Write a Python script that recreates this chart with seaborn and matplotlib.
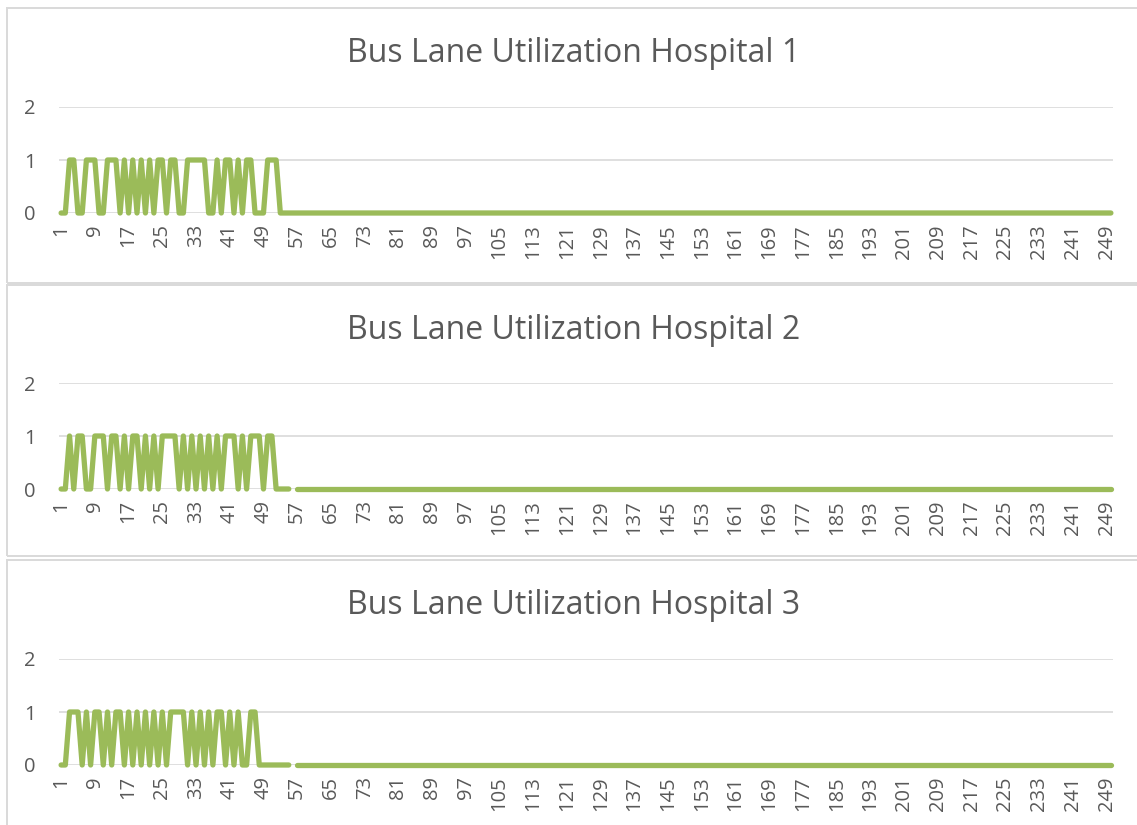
import numpy as np
import pandas as pd
import matplotlib
matplotlib.use("Agg")
import matplotlib.pyplot as plt
import seaborn as sns
from matplotlib.patches import Rectangle

# ---- data -------------------------------------------------------------
n_points = 250
categories = list(range(1, n_points + 1))

hospital_1 = [0, 0, 1, 1, 0, 0, 1, 1, 1, 0,
              0, 1, 1, 1, 0, 1, 0, 1, 0, 1,
              0, 1, 0, 1, 1, 0, 1, 1, 0, 0,
              1, 1, 1, 1, 1, 0, 0, 1, 0, 1,
              1, 0, 1, 0, 1, 1, 0, 0, 0, 1,
              1, 1, 0] + [0] * (n_points - 53)

hospital_2 = [0, 0, 1, 0, 1, 1, 0, 0, 1, 1,
              1, 0, 1, 1, 0, 1, 0, 1, 1, 0,
              1, 0, 1, 0, 1, 1, 1, 1, 0, 1,
              0, 1, 0, 1, 0, 1, 0, 1, 0, 1,
              1, 1, 0, 1, 0, 1, 1, 1, 0, 1,
              1, 0, 0, 0, 0, np.nan] + [0] * (n_points - 56)

hospital_3 = [0, 0, 1, 1, 1, 0, 1, 0, 1, 1,
              0, 1, 0, 1, 1, 0, 1, 0, 1, 0,
              1, 0, 1, 0, 1, 0, 1, 1, 1, 1,
              0, 1, 0, 1, 0, 1, 0, 1, 1, 0,
              1, 0, 1, 0, 0, 1, 1, 0, 0, 0,
              0, 0, 0, 0, 0, np.nan] + [0] * (n_points - 56)

series = [hospital_1, hospital_2, hospital_3]
titles = ["Bus Lane Utilization Hospital 1",
          "Bus Lane Utilization Hospital 2",
          "Bus Lane Utilization Hospital 3"]
x_ticks = list(range(1, n_points + 1, 8))
x_tick_labels = [str(t) for t in x_ticks]
y_ticks = [0, 1, 2]

# ---- style ------------------------------------------------------------
sns.set_theme(style="white")
plt.rcParams["font.family"] = ["Open Sans", "DejaVu Sans"]

LINE = "#9bbb59"
GRID = "#d9d9d9"
TEXT = "#595959"

W, H = 1137, 825
fig = plt.figure(figsize=(W / 100, H / 100), dpi=100)
fig.patch.set_facecolor("white")


def fig_box(x0, y0, x1, y1):
    """Pixel box (top-left origin) -> figure fraction rect."""
    return [x0 / W, 1 - y1 / H, (x1 - x0) / W, (y1 - y0) / H]


panel_frames = [(7, 8, 1160, 283), (7, 285, 1160, 556), (7, 560, 1160, 840)]
plot_areas = [(59, 107, 1113, 213), (59, 383, 1113, 489), (59, 659, 1113, 765)]
title_y = [54, 331, 606]

for (fx0, fy0, fx1, fy1) in panel_frames:
    fig.patches.append(Rectangle((fx0 / W, 1 - fy1 / H), (fx1 - fx0) / W,
                                 (fy1 - fy0) / H, transform=fig.transFigure,
                                 fill=False, edgecolor=GRID, lw=1.4))

for values, title, area, ty in zip(series, titles, plot_areas, title_y):
    ax = fig.add_axes(fig_box(*area))
    df = pd.DataFrame({"category": categories, "value": values})
    # break the line wherever a value is missing
    df["segment"] = df["value"].isna().cumsum()
    df = df.dropna()
    sns.lineplot(data=df, x="category", y="value", units="segment",
                 estimator=None, color=LINE, lw=3.8, ax=ax,
                 solid_capstyle="round", solid_joinstyle="round",
                 legend=False, clip_on=False, zorder=3)
    ax.set_xlim(0.5, n_points + 0.5)
    ax.set_ylim(0, 2)
    ax.set_xticks(x_ticks)
    ax.set_xticklabels(x_tick_labels, rotation=90)
    ax.set_yticks(y_ticks)
    ax.set_yticklabels([str(v) for v in y_ticks])
    ax.set_xlabel("")
    ax.set_ylabel("")
    ax.yaxis.grid(True, color=GRID, lw=1.2)
    ax.xaxis.grid(False)
    ax.set_axisbelow(True)
    for s in ax.spines.values():
        s.set_visible(False)
    ax.set_facecolor("none")
    ax.tick_params(axis="x", length=0, pad=8, labelsize=14.5, colors=TEXT)
    ax.tick_params(axis="y", length=0, pad=17, labelsize=14.5, colors=TEXT)
    fig.text(574 / W, 1 - ty / H, title, ha="center", va="center",
             fontsize=23, color=TEXT)

fig.savefig("out.png", dpi=100, facecolor="white")
